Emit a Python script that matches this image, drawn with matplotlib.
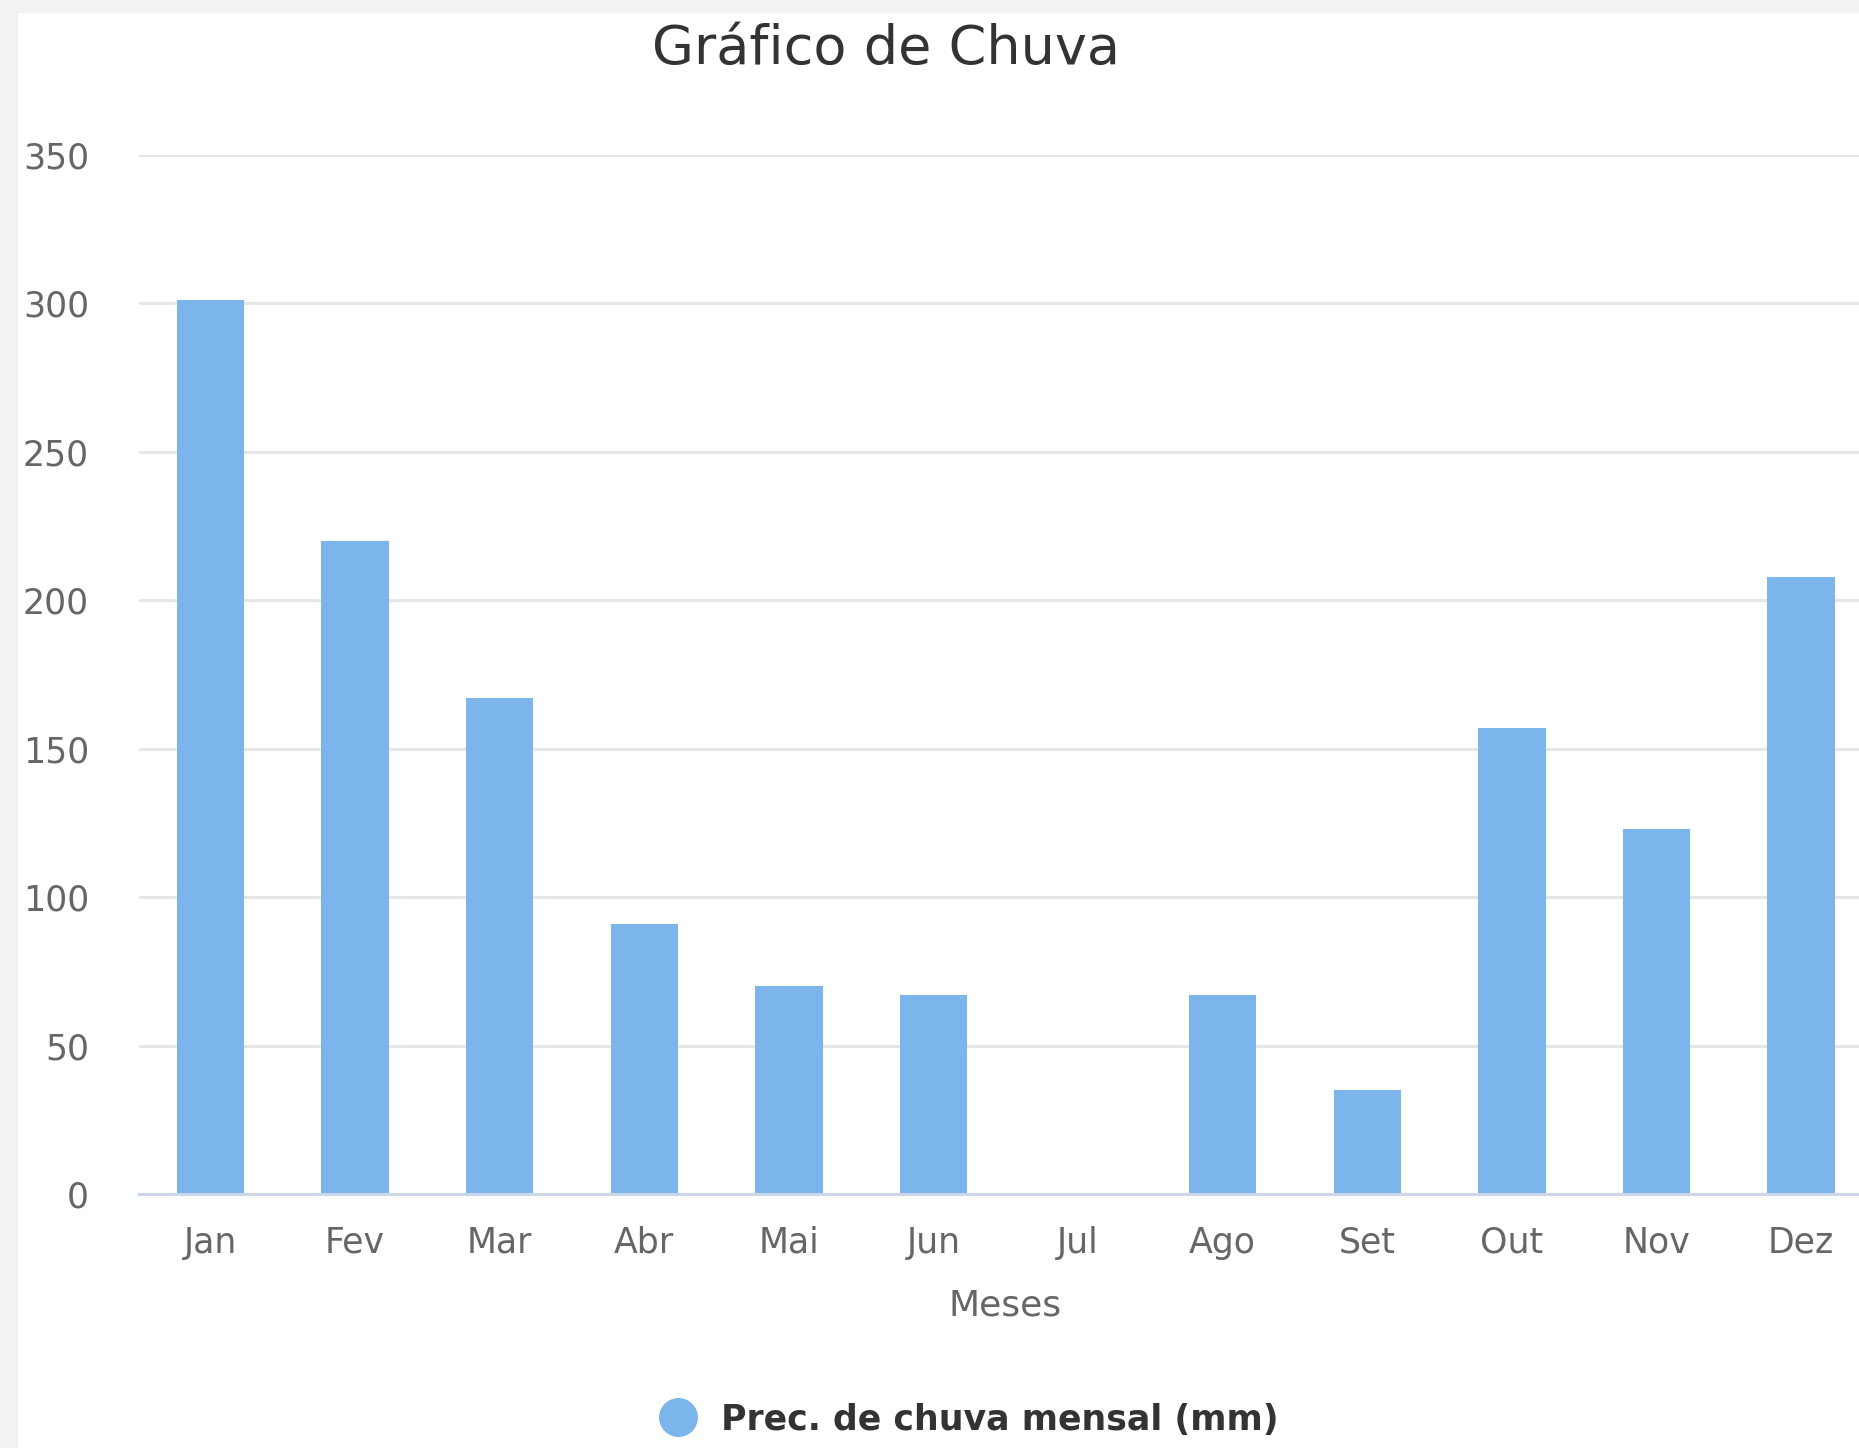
import matplotlib
matplotlib.use("Agg")
import matplotlib.pyplot as plt
from matplotlib.patches import Rectangle
from matplotlib.lines import Line2D

months = ["Jan", "Fev", "Mar", "Abr", "Mai", "Jun", "Jul", "Ago", "Set", "Out", "Nov", "Dez"]
rain_mm = [301, 220, 167, 91, 70, 67, 0, 67, 35, 157, 123, 208]
yticks = [0, 50, 100, 150, 200, 250, 300, 350]
title = "Gráfico de Chuva"
xlabel = "Meses"
series_name = "Prec. de chuva mensal (mm)"

W, H = 1859, 1448
fig = plt.figure(figsize=(W / 100, H / 100), dpi=100, facecolor="#f2f2f2")
fig.patches.append(Rectangle((18 / W, 0), 1 - 18 / W, 1 - 13 / H, transform=fig.transFigure,
                             facecolor="white", edgecolor="none", zorder=-10))

ax = fig.add_axes([139 / W, 1 - 1194 / H, 1 - 139 / W, (1194 - 155) / H])
ax.set_facecolor("none")
x = list(range(len(months)))
ax.bar(x, rain_mm, width=0.467, color="#7cb5ec", zorder=3)
ax.set_xlim(-0.494, 11.40)
ax.set_ylim(0, 350)
ax.set_yticks(yticks)
ax.set_yticklabels([str(v) for v in yticks])
ax.set_xticks(x)
ax.set_xticklabels(months)
ax.yaxis.grid(True, color="#e6e6e6", linewidth=2.2, zorder=0)
ax.set_axisbelow(True)
for s in ["top", "right", "left"]:
    ax.spines[s].set_visible(False)
ax.spines["bottom"].set_color("#ccd6eb")
ax.spines["bottom"].set_linewidth(2.2)
ax.spines["bottom"].set_zorder(4)
ax.tick_params(axis="both", length=0, labelsize=25, labelcolor="#666666")
ax.tick_params(axis="y", pad=36)
ax.tick_params(axis="x", pad=23)

fig.text(886 / W, 1 - 49 / H, title, ha="center", va="center", fontsize=39, color="#333333")
fig.text(1005 / W, 1 - 1305 / H, xlabel, ha="center", va="center", fontsize=26, color="#666666")

fig.lines.append(Line2D([678 / W], [1 - 1417 / H], marker="o", markersize=27, color="#7cb5ec",
                        linestyle="none", transform=fig.transFigure))
fig.text(721 / W, 1 - 1420 / H, series_name, ha="left", va="center", fontsize=25,
         fontweight="bold", color="#333333")

fig.savefig("out.png", dpi=100, facecolor=fig.get_facecolor())
